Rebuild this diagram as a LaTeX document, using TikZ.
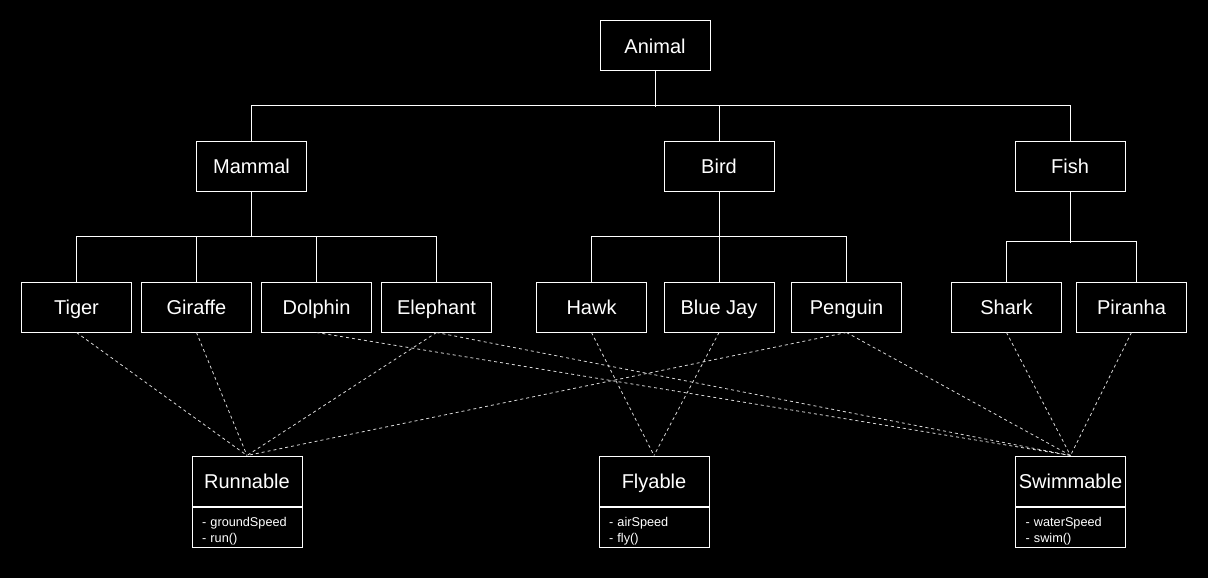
\documentclass[tikz,border=0pt]{standalone}
\usepackage{fontspec}
\setmainfont{Liberation Sans}
\newcommand{\attrstrut}{\rule{0pt}{17pt}}
\begin{document}
\begin{tikzpicture}[x=1pt,y=-1pt,
  box/.style={draw=white,line width=1pt,fill=black,text=white,minimum width=110pt,minimum height=50pt,inner sep=0pt,text height=14.3pt,text depth=0pt,font=\fontsize{20}{24}\selectfont},
  attrbox/.style={draw=white,line width=1pt,fill=black,text=white,minimum width=110pt,minimum height=40pt,inner xsep=10pt,inner ysep=0pt,text width=90pt,align=left,font=\fontsize{12.7}{16}\selectfont},
  tree/.style={draw=white,line width=1pt},
  impl/.style={draw=white!85!black,line width=0.8pt,dash pattern=on 3pt off 3pt}]
\fill[black] (0,0) rectangle (1208,578);
\useasboundingbox (0,0) rectangle (1208,578);
% hierarchy
\node[box] (animal) at (655,46) {Animal};
\node[box] (mammal) at (251.5,166) {Mammal};
\node[box] (bird) at (719,166) {Bird};
\node[box] (fish) at (1070,166) {Fish};
\node[box] (tiger) at (76.5,307) {Tiger};
\node[box] (giraffe) at (196.5,307) {Giraffe};
\node[box] (dolphin) at (316.5,307) {Dolphin};
\node[box] (elephant) at (436.5,307) {Elephant};
\node[box] (hawk) at (591.5,307) {Hawk};
\node[box] (bluejay) at (719,307) {Blue Jay};
\node[box] (penguin) at (846.5,307) {Penguin};
\node[box] (shark) at (1006.5,307) {Shark};
\node[box] (piranha) at (1131.5,307) {Piranha};
% interfaces
\node[box] (run) at (247,481) {Runnable};
\node[attrbox,anchor=north] (runattr) at (run.south) {\attrstrut- groundSpeed\\- run()};
\node[box] (fly) at (654,481) {Flyable};
\node[attrbox,anchor=north] (flyattr) at (fly.south) {\attrstrut- airSpeed\\- fly()};
\node[box] (swim) at (1070.5,481) {Swimmable};
\node[attrbox,anchor=north] (swimattr) at (swim.south) {\attrstrut- waterSpeed\\- swim()};
% tree connectors
\draw[tree] (animal.south) -- ++(0,35);
\draw[tree] (mammal.north) -- ++(0,-35) -| (fish.north);
\draw[tree] (bird.north) -- ++(0,-35);
\draw[tree] (mammal.south) -- ++(0,45.5);
\draw[tree] (tiger.north) -- ++(0,-45.5) -| (elephant.north);
\draw[tree] (giraffe.north) -- ++(0,-45.5);
\draw[tree] (dolphin.north) -- ++(0,-45.5);
\draw[tree] (bird.south) -- ++(0,45.5);
\draw[tree] (hawk.north) -- ++(0,-45.5) -| (penguin.north);
\draw[tree] (bluejay.north) -- ++(0,-45.5);
\draw[tree] (fish.south) -- ++(0,51);
\draw[tree] (shark.north) -- ++(0,-40) -| ([xshift=4.5pt]piranha.north);
% implementations
\draw[impl] (tiger.south) -- (run.north);
\draw[impl] (giraffe.south) -- (run.north);
\draw[impl] (elephant.south) -- (run.north);
\draw[impl] (penguin.south) -- (run.north);
\draw[impl] (hawk.south) -- (fly.north);
\draw[impl] (bluejay.south) -- (fly.north);
\draw[impl] (dolphin.south) -- (swim.north);
\draw[impl] (elephant.south) -- (swim.north);
\draw[impl] (penguin.south) -- (swim.north);
\draw[impl] (shark.south) -- (swim.north);
\draw[impl] (piranha.south) -- (swim.north);
\end{tikzpicture}
\end{document}
